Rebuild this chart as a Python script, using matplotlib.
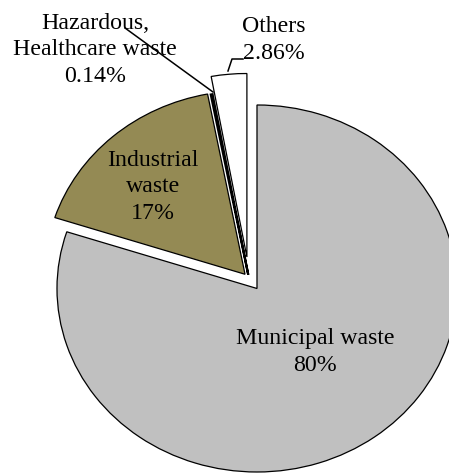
import matplotlib
matplotlib.use("Agg")
import matplotlib.pyplot as plt

plt.rcParams['font.family'] = ['Liberation Serif', 'DejaVu Serif']

categories = ["Municipal waste", "Industrial\nwaste", "Hazardous,\nHealthcare waste", "Others"]
shares = [80, 17, 0.14, 2.86]
pct_labels = ["80%", "17%", "0.14%", "2.86%"]

colors = ["#c0c0c0", "#948a54", "#000000", "#ffffff"]
explode = [0.068, 0.03, 0.02, 0.117]

W, H = 449, 473
fig = plt.figure(figsize=(W / 100, H / 100), dpi=100)
ax = fig.add_axes([0, 0, 1, 1])

wedges, _ = ax.pie(shares, explode=explode, colors=colors, startangle=90, counterclock=False,
                   wedgeprops=dict(edgecolor="black", linewidth=0.9))
wedges[2].set_linewidth(1.6)  # tiny slice, drawn thicker like the original

# the chart in the reference is slightly stretched horizontally
cx, cy, rx, ry = 249, 278.4, 200, 183.5
ax.set_aspect("auto")
ax.set_xlim(-cx / rx, (W - cx) / rx)
ax.set_ylim((cy - H) / ry, cy / ry)
ax.axis("off")


def px(x, y):
    return (x - cx) / rx, (cy - y) / ry


fs = 17.2
# label anchors in pixel units of the original image
label_xy = [(315, 352), (153, 187), (95, 50), (274, 40)]
for name, pct, (x, y) in zip(categories, pct_labels, label_xy):
    ax.text(*px(x, y), f"{name}\n{pct}", ha="center", va="center",
            fontsize=fs, linespacing=1.32, color="black")

# leader lines
ax.plot(*zip(px(125, 28), px(213, 92)), color="black", lw=1.1)
ax.plot(*zip(px(243, 59), px(232, 59), px(228, 71)), color="black", lw=1.1)

fig.savefig("out.png", dpi=100)
